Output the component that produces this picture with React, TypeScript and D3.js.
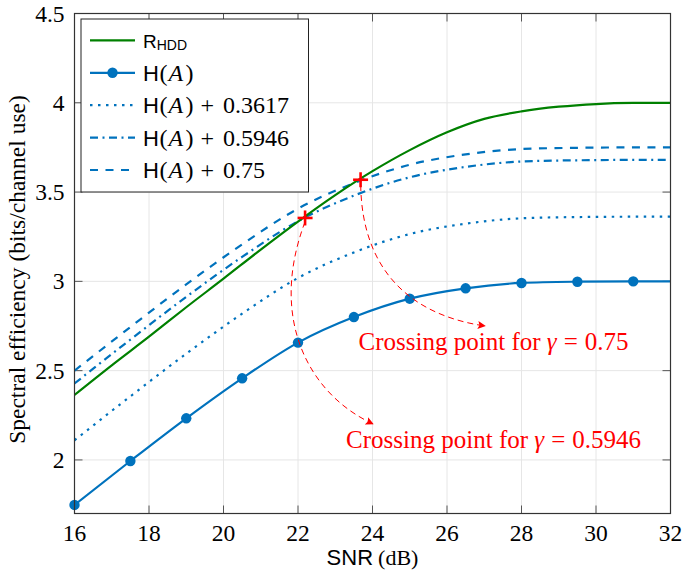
import React from "react";
import * as d3 from "d3";

// ---------- data ----------
const snrH = [16, 17.5, 19, 20.5, 22, 23.5, 25, 26.5, 28, 29.5, 31, 32];
const hA = [1.748, 1.994, 2.233, 2.457, 2.657, 2.8, 2.903, 2.961, 2.991, 2.998, 3.0, 3.0];
const hA03617 = [2.11, 2.356, 2.595, 2.819, 3.019, 3.162, 3.265, 3.323, 3.353, 3.36, 3.362, 3.362];
const hA05946 = [2.428, 2.674, 2.913, 3.137, 3.337, 3.48, 3.583, 3.641, 3.671, 3.678, 3.68, 3.68];
const hA075 = [2.5, 2.744, 2.983, 3.207, 3.407, 3.55, 3.653, 3.711, 3.741, 3.748, 3.75, 3.75];
const markerIdx = [0, 1, 2, 3, 4, 5, 6, 7, 8, 9, 10];

const snrR = [16, 17, 18, 19, 20, 21, 22, 23, 24, 25, 26, 27, 28, 29, 30, 31, 32];
const rHDD = [2.364, 2.53, 2.69, 2.855, 3.015, 3.178, 3.335, 3.483, 3.617, 3.735, 3.835, 3.91, 3.952, 3.978, 3.993, 3.999, 4.0];

const xTicks = [16, 18, 20, 22, 24, 26, 28, 30, 32];
const yTicks = [2, 2.5, 3, 3.5, 4, 4.5];

const crossings = [
  { x: 22.19, y: 3.355 },
  { x: 23.68, y: 3.569 },
];
// annotation arrows (cubic bezier control points in data units)
const arrows = [
  [[23.683, 3.54], [23.718, 3.064], [25.007, 2.812], [27.02, 2.75]],
  [[22.188, 3.333], [21.195, 2.784], [22.322, 2.364], [24.013, 2.202]],
];
const annotations = [
  { x: 27.25, y: 2.616, gamma: "0.75" },
  { x: 27.25, y: 2.067, gamma: "0.5946" },
];

// ---------- styles ----------
const W = 686, H = 574;
const BLUE = "#0072BD";
const GREEN = "#008000";
const RED = "#FF0000";
const SERIF = "Liberation Serif, Times New Roman, Times, serif";
const SANS = "Liberation Sans, Arial, Helvetica, sans-serif";
const serif = { fontFamily: SERIF } as React.CSSProperties;
const sans = { fontFamily: SANS } as React.CSSProperties;

const x = d3.scaleLinear().domain([16, 32]).range([74.5, 670.5]);
const y = d3.scaleLinear().domain([1.7, 4.5]).range([513.5, 13.5]);

const mkLine = (xs: number[], ys: number[]) =>
  d3.line<number>().x((_, i) => x(xs[i])).y((d) => y(d)).curve(d3.curveMonotoneX)(ys) || "";

const DOT = "2.5,5.5";
const DASHDOT = "8,4.5,2,4.5";
const DASH = "8,7.5";

export default function App() {
  const [x0, x1] = x.range();
  const [yb, yt] = y.range();
  const tickLen = 8;

  const legendRows = [
    { kind: "r", dash: undefined as string | undefined, marker: false },
    { kind: "h", dash: undefined, marker: true },
    { kind: "h", dash: DOT, marker: false, add: "0.3617" },
    { kind: "h", dash: DASHDOT, marker: false, add: "0.5946" },
    { kind: "h", dash: DASH, marker: false, add: "0.75" },
  ] as { kind: string; dash?: string; marker: boolean; add?: string }[];

  const lx = 143;

  return (
    <svg width={W} height={H} style={{ display: "block", position: "absolute", left: 0, top: 0 }}>
      <rect x={0} y={0} width={W} height={H} fill="#fff" />
      <defs>
        <clipPath id="plotclip">
          <rect x={x0} y={yt} width={x1 - x0} height={yb - yt} />
        </clipPath>
        <marker id="arrowhead" viewBox="0 0 10 10" refX="9" refY="5" markerWidth="11" markerHeight="8" markerUnits="userSpaceOnUse" orient="auto">
          <path d="M0,0 L10,5 L0,10 L2,5 Z" fill={RED} />
        </marker>
      </defs>

      {/* grid */}
      {xTicks.map((t) => (
        <line key={"gx" + t} x1={x(t)} x2={x(t)} y1={yb} y2={yt} stroke="#e6e6e6" strokeWidth={1} />
      ))}
      {yTicks.map((t) => (
        <line key={"gy" + t} x1={x0} x2={x1} y1={y(t)} y2={y(t)} stroke="#e6e6e6" strokeWidth={1} />
      ))}

      {/* ticks (inside, all sides) */}
      {xTicks.map((t) => (
        <g key={"tx" + t} stroke="#555" strokeWidth={1}>
          <line x1={x(t)} x2={x(t)} y1={yb} y2={yb - tickLen} />
          <line x1={x(t)} x2={x(t)} y1={yt} y2={yt + tickLen} />
        </g>
      ))}
      {yTicks.map((t) => (
        <g key={"ty" + t} stroke="#555" strokeWidth={1}>
          <line x1={x0} x2={x0 + tickLen} y1={y(t)} y2={y(t)} />
          <line x1={x1} x2={x1 - tickLen} y1={y(t)} y2={y(t)} />
        </g>
      ))}

      {/* series */}
      <g clipPath="url(#plotclip)" fill="none" strokeWidth={2.2}>
        <path d={mkLine(snrH, hA03617)} stroke={BLUE} strokeDasharray={DOT} />
        <path d={mkLine(snrH, hA05946)} stroke={BLUE} strokeDasharray={DASHDOT} />
        <path d={mkLine(snrH, hA075)} stroke={BLUE} strokeDasharray={DASH} />
        <path d={mkLine(snrR, rHDD)} stroke={GREEN} strokeWidth={2.2} />
        <path d={mkLine(snrH, hA)} stroke={BLUE} />
      </g>
      {markerIdx.map((i) => (
        <circle key={"m" + i} cx={x(snrH[i])} cy={y(hA[i])} r={5.2} fill={BLUE} />
      ))}

      {/* annotation arrows */}
      {arrows.map((a, i) => {
        const p = a.map(([dx, dy]) => [x(dx), y(dy)]);
        const d = `M${p[0][0]},${p[0][1]} C${p[1][0]},${p[1][1]} ${p[2][0]},${p[2][1]} ${p[3][0]},${p[3][1]}`;
        return <path key={"ar" + i} d={d} fill="none" stroke={RED} strokeWidth={1} strokeDasharray="6,4" markerEnd="url(#arrowhead)" />;
      })}
      {crossings.map((c, i) => (
        <g key={"c" + i} stroke={RED} strokeWidth={2.6}>
          <line x1={x(c.x) - 7.5} x2={x(c.x) + 7.5} y1={y(c.y)} y2={y(c.y)} />
          <line x1={x(c.x)} x2={x(c.x)} y1={y(c.y) - 7.5} y2={y(c.y) + 7.5} />
        </g>
      ))}
      {annotations.map((a, i) => (
        <text key={"an" + i} x={x(a.x)} y={y(a.y)} textAnchor="middle" fill={RED} style={{ ...serif, fontSize: 25 }}>
          <tspan>Crossing point for </tspan>
          <tspan fontStyle="italic">γ</tspan>
          <tspan dx={7}>=</tspan>
          <tspan dx={7}>{a.gamma}</tspan>
        </text>
      ))}

      {/* frame */}
      <rect x={x0} y={yt} width={x1 - x0} height={yb - yt} fill="none" stroke="#333" strokeWidth={1.2} />

      {/* tick labels */}
      {xTicks.map((t) => (
        <text key={"lx" + t} x={x(t)} y={yb + 27.5} textAnchor="middle" fill="#000" style={{ ...serif, fontSize: 23.5 }}>
          {t}
        </text>
      ))}
      {yTicks.map((t) => (
        <text key={"ly" + t} x={x0 - 10} y={y(t) + 8} textAnchor="end" fill="#000" style={{ ...serif, fontSize: 23.5 }}>
          {t}
        </text>
      ))}

      {/* axis labels */}
      <text x={(x0 + x1) / 2} y={565} textAnchor="middle" fill="#000" style={{ fontSize: 22 }}>
        <tspan style={sans}>SNR</tspan>
        <tspan style={serif} dx={5}>(dB)</tspan>
      </text>
      <text transform={`translate(25, ${(yt + yb) / 2 + 6}) rotate(-90)`} textAnchor="middle" fill="#000" style={{ ...serif, fontSize: 23.5 }}>
        Spectral efficiency (bits/channel use)
      </text>

      {/* legend */}
      <g>
        <rect x={81} y={19} width={227.5} height={173} fill="#fff" stroke="#222" strokeWidth={1} />
        {legendRows.map((r, i) => {
          const cy = 40.4 + i * 32.4;
          return (
            <g key={"lg" + i}>
              <line x1={90} x2={135} y1={cy} y2={cy} stroke={r.kind === "r" ? GREEN : BLUE} strokeWidth={2.2} strokeDasharray={r.dash} />
              {r.marker && <circle cx={112.5} cy={cy} r={5.2} fill={BLUE} />}
              {r.kind === "r" ? (
                <text x={lx} y={cy + 8} fill="#000" style={{ ...sans, fontSize: 19 }}>
                  R<tspan style={{ fontSize: 14 }} dy={2}>HDD</tspan>
                </text>
              ) : (
                <text x={lx} y={cy + 8} fill="#000" style={{ fontSize: 24 }}>
                  <tspan style={{ ...sans, fontSize: 22 }}>H</tspan>
                  <tspan style={serif} dx={0.5}>(</tspan>
                  <tspan style={{ ...serif, fontStyle: "italic" }} dx={1}>A</tspan>
                  <tspan style={serif} dx={2.5}>)</tspan>
                  {r.add && <tspan style={serif} dx={7}>+</tspan>}
                  {r.add && <tspan style={serif} dx={9}>{r.add}</tspan>}
                </text>
              )}
            </g>
          );
        })}
      </g>
    </svg>
  );
}
